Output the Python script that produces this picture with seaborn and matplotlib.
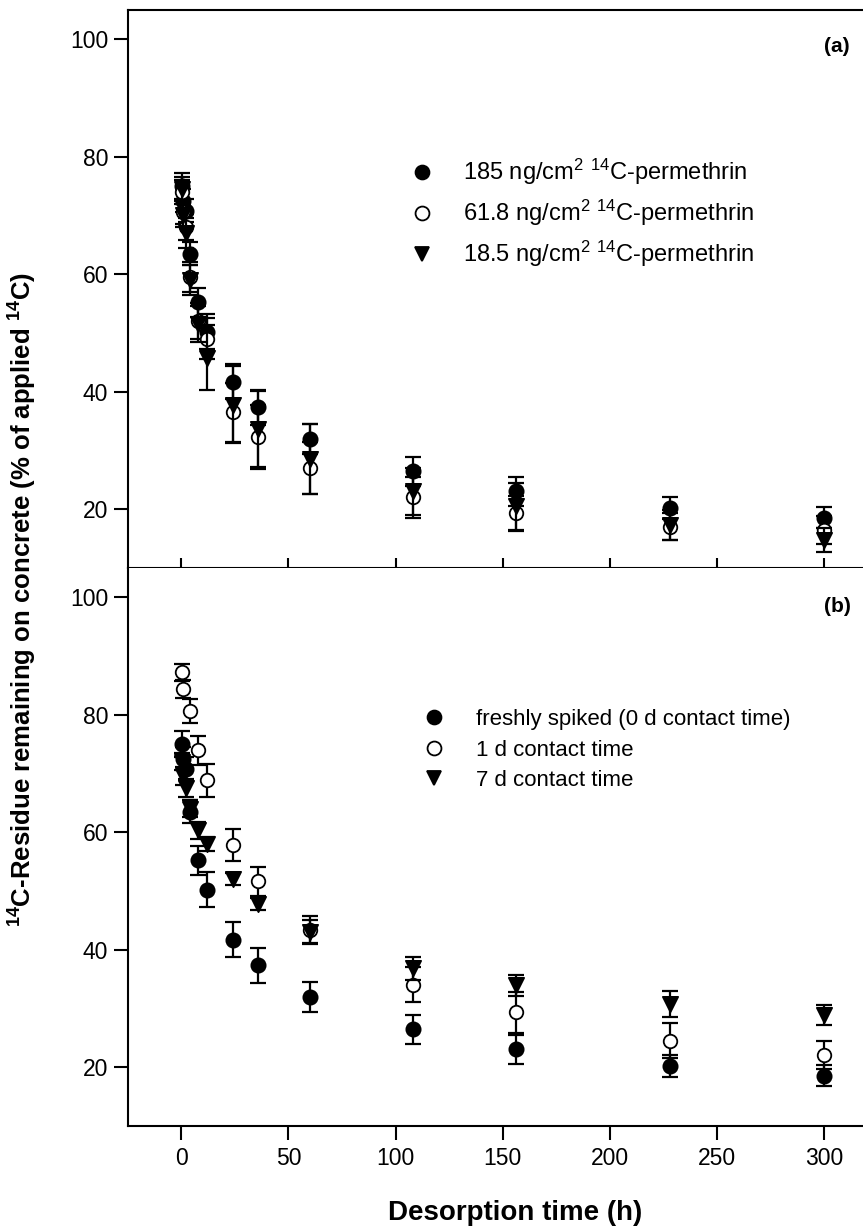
import matplotlib

matplotlib.use("Agg")
import matplotlib.pyplot as plt
import pandas as pd
import seaborn as sns
from matplotlib.lines import Line2D

# Sampling times (h)
time_h = [0.5, 1, 2, 4, 8, 12, 24, 36, 60, 108, 156, 228, 300]
time_1d = [0.5, 1, 4, 8, 12, 24, 36, 60, 108, 156, 228, 300]

# Panel (a): applied concentration
conc_185 = [75.0, 72.5, 70.8, 63.5, 55.2, 50.2, 41.7, 37.3, 31.9, 26.4, 23.0, 20.2, 18.5]
conc_185_err = [2.2, 2.0, 2.0, 2.0, 2.5, 3.0, 3.0, 3.0, 2.5, 2.5, 2.4, 1.9, 1.8]
conc_618 = [74.0, 70.5, 68.0, 59.5, 52.0, 49.0, 36.5, 32.3, 27.0, 22.0, 19.3, 17.0, 16.4]
conc_618_err = [2.0, 2.0, 2.2, 2.5, 3.0, 3.5, 5.0, 5.5, 4.5, 3.5, 3.0, 2.3, 2.4]
conc_185b = [74.5, 70.0, 67.0, 59.0, 51.5, 45.8, 37.8, 33.6, 28.5, 23.0, 20.5, 17.3, 14.7]
conc_185b_err = [2.0, 2.0, 2.5, 2.5, 3.0, 5.5, 6.5, 6.5, 6.0, 4.0, 4.0, 2.6, 2.0]

# Panel (b): contact time
fresh = conc_185
fresh_err = conc_185_err
contact_1d = [87.2, 84.4, 80.6, 73.9, 68.8, 57.8, 51.6, 43.4, 34.0, 29.3, 24.5, 22.0]
contact_1d_err = [1.5, 1.5, 2.0, 2.5, 2.8, 2.8, 2.5, 2.3, 3.0, 3.5, 3.0, 2.4]
contact_7d = [72.0, 69.5, 67.5, 64.0, 60.3, 58.0, 52.0, 47.8, 43.0, 36.8, 33.9, 30.8, 28.8]
contact_7d_err = [1.5, 1.5, 1.5, 1.5, 1.5, 1.2, 1.0, 1.0, 2.0, 2.0, 1.8, 2.2, 1.7]

labels_a = [
    "185 ng/cm$^2$ $^{14}$C-permethrin",
    "61.8 ng/cm$^2$ $^{14}$C-permethrin",
    "18.5 ng/cm$^2$ $^{14}$C-permethrin",
]
labels_b = [
    "freshly spiked (0 d contact time)",
    "1 d contact time",
    "7 d contact time",
]

sns.set_style("ticks")
plt.rcParams["font.family"] = ["Liberation Sans", "DejaVu Sans"]
plt.rcParams["mathtext.fontset"] = "custom"
plt.rcParams["mathtext.rm"] = "Liberation Sans"
plt.rcParams["mathtext.default"] = "regular"
for key in ["text.color", "axes.labelcolor", "xtick.color", "ytick.color", "axes.edgecolor"]:
    plt.rcParams[key] = "black"

styles = [
    dict(marker="o", facecolor="black", s=105),
    dict(marker="o", facecolor="white", s=95),
    dict(marker="v", facecolor="black", s=120),
]


def draw_panel(ax, series):
    for i, (t, v, e) in enumerate(series):
        df = pd.DataFrame({"time": t, "value": v})
        ax.errorbar(t, v, yerr=e, fmt="none", ecolor="black",
                    elinewidth=1.6, capsize=6, capthick=1.6, zorder=2 + i)
        st = styles[i]
        sns.scatterplot(data=df, x="time", y="value", ax=ax, marker=st["marker"],
                        color=st["facecolor"], edgecolor="black", linewidth=1.3,
                        s=st["s"], zorder=3 + i, legend=False)
    ax.set_xlim(-25, 318)
    ax.set_ylim(10, 105)
    ax.set_yticks([20, 40, 60, 80, 100])
    ax.set_xlabel("")
    ax.set_ylabel("")
    ax.spines["right"].set_visible(False)
    for sp in ax.spines.values():
        sp.set_linewidth(1.5)
        sp.set_color("black")
    ax.tick_params(axis="y", direction="out", length=10, width=1.5, labelsize=16.5, pad=4)


def legend_handles():
    return [Line2D([], [], linestyle="none", marker=st["marker"], markersize=10,
                   markerfacecolor=st["facecolor"], markeredgecolor="black",
                   markeredgewidth=1.3) for st in styles]


fig = plt.figure(figsize=(8.63, 12.29), dpi=100)
ax_a = fig.add_axes([0.148, 0.538, 0.852, 0.454])
ax_b = fig.add_axes([0.148, 0.084, 0.852, 0.454])

draw_panel(ax_a, [(time_h, conc_185, conc_185_err),
                  (time_h, conc_618, conc_618_err),
                  (time_h, conc_185b, conc_185b_err)])
draw_panel(ax_b, [(time_h, fresh, fresh_err),
                  (time_1d, contact_1d, contact_1d_err),
                  (time_h, contact_7d, contact_7d_err)])

ax_a.tick_params(axis="x", direction="in", length=7, width=1.5, labelbottom=False)
ax_b.spines["top"].set_visible(False)
ax_b.set_xticks([0, 50, 100, 150, 200, 250, 300])
ax_b.tick_params(axis="x", direction="out", length=10, width=1.5, labelsize=16.5, pad=5)

ax_a.legend(handles=legend_handles(), labels=labels_a, loc="upper left",
            bbox_to_anchor=(0.388, 0.736), frameon=False, fontsize=17,
            handlelength=0.8, handletextpad=1.3, labelspacing=0.45,
            borderpad=0, borderaxespad=0)
ax_b.legend(handles=legend_handles(), labels=labels_b, loc="upper left",
            bbox_to_anchor=(0.405, 0.747), frameon=False, fontsize=16,
            handlelength=0.8, handletextpad=1.45, labelspacing=0.43,
            borderpad=0, borderaxespad=0)

ax_a.text(0.965, 0.934, "(a)", transform=ax_a.transAxes, ha="center", va="center",
          fontsize=15, fontweight="bold")
ax_b.text(0.965, 0.930, "(b)", transform=ax_b.transAxes, ha="center", va="center",
          fontsize=15, fontweight="bold")

fig.text(0.026, 0.512, "$^{14}$C-Residue remaining on concrete (% of applied $^{14}$C)",
         rotation=90, ha="center", va="center", fontsize=18.5, fontweight="bold")
fig.text(0.597, 0.013, "Desorption time (h)", ha="center", va="center",
         fontsize=20, fontweight="bold")

fig.savefig("out.png", dpi=100)
